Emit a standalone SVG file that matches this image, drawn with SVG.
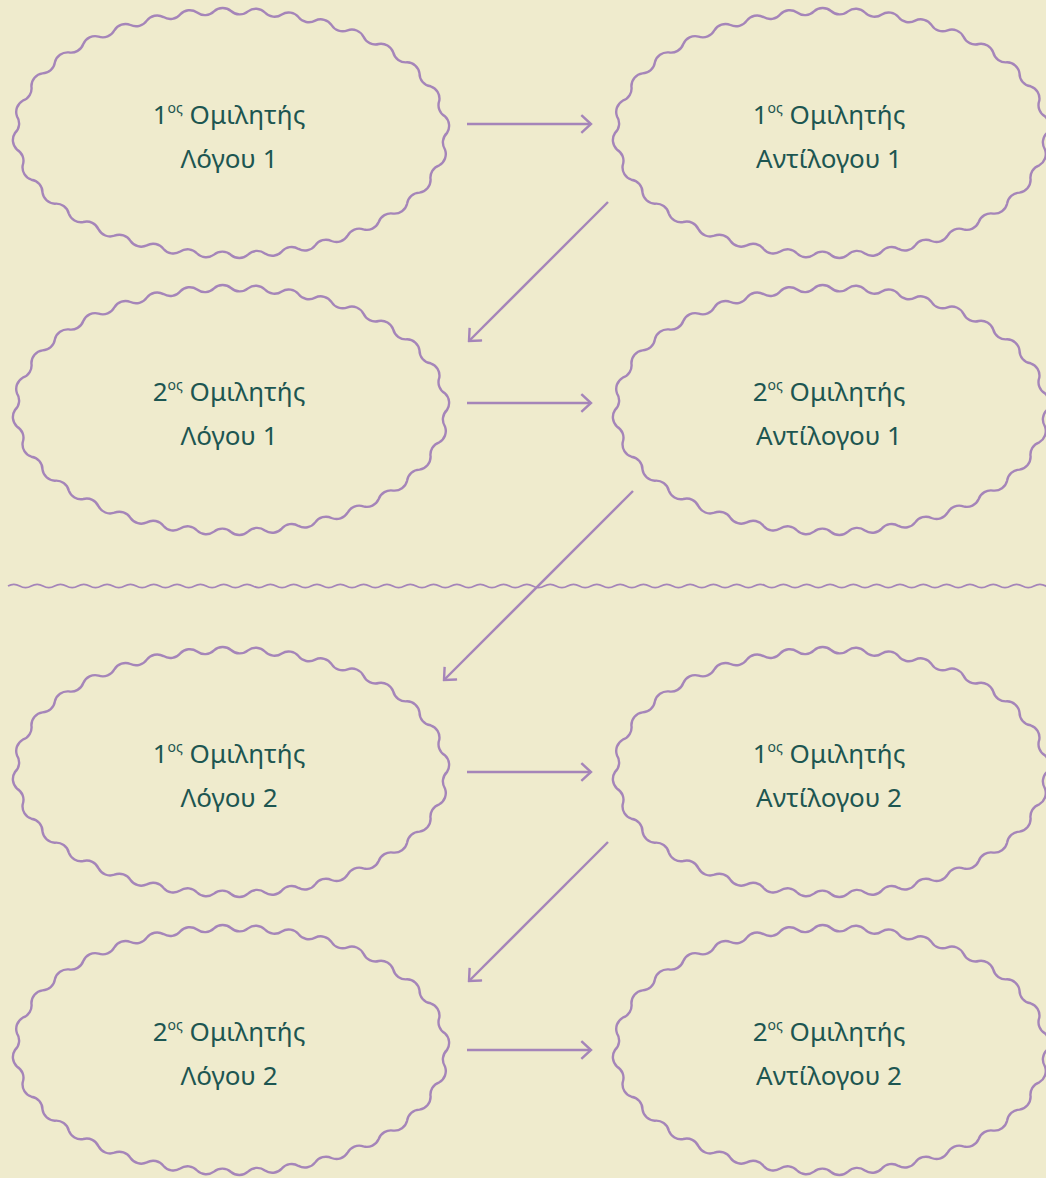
<svg xmlns="http://www.w3.org/2000/svg" xmlns:xlink="http://www.w3.org/1999/xlink" width="1046" height="1178" viewBox="0 0 1046 1178">
<style>
.blob{fill:none;stroke:#a585b9;stroke-width:2.4;stroke-linejoin:round}
.t{font-family:"Noto Sans","Open Sans","DejaVu Sans",sans-serif;font-size:26px;fill:#1d5651;text-anchor:middle}
.sup{font-size:14px}
.conn line{stroke:#a585b9;stroke-width:2.4}
.sep{fill:none;stroke:#a585b9;stroke-width:1.8}
</style>
<defs>
<marker id="ah" markerUnits="userSpaceOnUse" viewBox="-12 -10 14 20" refX="0" refY="0" markerWidth="14" markerHeight="20" orient="auto">
<path d="M-8.8,-8 L0,0 L-8.8,8" fill="none" stroke="#a585b9" stroke-width="2.4" stroke-linecap="square"/>
</marker>
<path id="wavy" class="blob" d="M216,0 A13,13 0 0 0 214,-16.6 A13,13 0 0 1 208.3,-32.3 A13,13 0 0 0 199.6,-46.7 A13,13 0 0 1 188.5,-59.6 A13,13 0 0 0 176.1,-70.7 A13,13 0 0 1 162.2,-80.6 A13,13 0 0 0 147.7,-89 A13,13 0 0 1 132.4,-96.4 A13,13 0 0 0 116.6,-102.7 A13,13 0 0 1 100.5,-108 A13,13 0 0 0 84.2,-112.4 A13,13 0 0 1 67.5,-115.9 A13,13 0 0 0 50.8,-118.6 A13,13 0 0 1 33.9,-120.5 A13,13 0 0 0 17,-121.6 A13,13 0 0 1 0,-122 A13,13 0 0 0 -17,-121.6 A13,13 0 0 1 -33.9,-120.5 A13,13 0 0 0 -50.8,-118.6 A13,13 0 0 1 -67.5,-115.9 A13,13 0 0 0 -84.2,-112.4 A13,13 0 0 1 -100.5,-108 A13,13 0 0 0 -116.6,-102.7 A13,13 0 0 1 -132.4,-96.4 A13,13 0 0 0 -147.7,-89 A13,13 0 0 1 -162.2,-80.6 A13,13 0 0 0 -176.1,-70.7 A13,13 0 0 1 -188.5,-59.6 A13,13 0 0 0 -199.6,-46.7 A13,13 0 0 1 -208.3,-32.3 A13,13 0 0 0 -214,-16.6 A13,13 0 0 1 -216,0 A13,13 0 0 0 -214,16.6 A13,13 0 0 1 -208.3,32.3 A13,13 0 0 0 -199.6,46.7 A13,13 0 0 1 -188.5,59.6 A13,13 0 0 0 -176.1,70.7 A13,13 0 0 1 -162.2,80.6 A13,13 0 0 0 -147.7,89 A13,13 0 0 1 -132.4,96.4 A13,13 0 0 0 -116.6,102.7 A13,13 0 0 1 -100.5,108 A13,13 0 0 0 -84.2,112.4 A13,13 0 0 1 -67.5,115.9 A13,13 0 0 0 -50.8,118.6 A13,13 0 0 1 -33.9,120.5 A13,13 0 0 0 -17,121.6 A13,13 0 0 1 0,122 A13,13 0 0 0 17,121.6 A13,13 0 0 1 33.9,120.5 A13,13 0 0 0 50.8,118.6 A13,13 0 0 1 67.5,115.9 A13,13 0 0 0 84.2,112.4 A13,13 0 0 1 100.5,108 A13,13 0 0 0 116.6,102.7 A13,13 0 0 1 132.4,96.4 A13,13 0 0 0 147.7,89 A13,13 0 0 1 162.2,80.6 A13,13 0 0 0 176.1,70.7 A13,13 0 0 1 188.5,59.6 A13,13 0 0 0 199.6,46.7 A13,13 0 0 1 208.3,32.3 A13,13 0 0 0 214,16.6 A13,13 0 0 1 216,0 Z"/>
</defs>
<rect width="1046" height="1178" fill="#efebcd"/>
<path class="sep" d="M8,586 q5.83,-3.3 11.66,0 t11.66,0 t11.66,0 t11.66,0 t11.66,0 t11.66,0 t11.66,0 t11.66,0 t11.66,0 t11.66,0 t11.66,0 t11.66,0 t11.66,0 t11.66,0 t11.66,0 t11.66,0 t11.66,0 t11.66,0 t11.66,0 t11.66,0 t11.66,0 t11.66,0 t11.66,0 t11.66,0 t11.66,0 t11.66,0 t11.66,0 t11.66,0 t11.66,0 t11.66,0 t11.66,0 t11.66,0 t11.66,0 t11.66,0 t11.66,0 t11.66,0 t11.66,0 t11.66,0 t11.66,0 t11.66,0 t11.66,0 t11.66,0 t11.66,0 t11.66,0 t11.66,0 t11.66,0 t11.66,0 t11.66,0 t11.66,0 t11.66,0 t11.66,0 t11.66,0 t11.66,0 t11.66,0 t11.66,0 t11.66,0 t11.66,0 t11.66,0 t11.66,0 t11.66,0 t11.66,0 t11.66,0 t11.66,0 t11.66,0 t11.66,0 t11.66,0 t11.66,0 t11.66,0 t11.66,0 t11.66,0 t11.66,0 t11.66,0 t11.66,0 t11.66,0 t11.66,0 t11.66,0 t11.66,0 t11.66,0 t11.66,0 t11.66,0 t11.66,0 t11.66,0 t11.66,0 t11.66,0 t11.66,0 t11.66,0 t11.66,0 t11.66,0 t11.66,0 t11.66,0"/>
<g id="node-l1a">
<use href="#wavy" x="231" y="133"/>
<text class="t" x="229" y="124">1<tspan class="sup" dy="-11">ος</tspan><tspan dy="11"> Ομιλητής</tspan></text>
<text class="t" x="229" y="168">Λόγου 1</text>
</g>
<g id="node-r1a">
<use href="#wavy" x="831" y="133"/>
<text class="t" x="829" y="124">1<tspan class="sup" dy="-11">ος</tspan><tspan dy="11"> Ομιλητής</tspan></text>
<text class="t" x="829" y="168">Αντίλογου 1</text>
</g>
<g id="node-l1b">
<use href="#wavy" x="231" y="410"/>
<text class="t" x="229" y="401">2<tspan class="sup" dy="-11">ος</tspan><tspan dy="11"> Ομιλητής</tspan></text>
<text class="t" x="229" y="445">Λόγου 1</text>
</g>
<g id="node-r1b">
<use href="#wavy" x="831" y="410"/>
<text class="t" x="829" y="401">2<tspan class="sup" dy="-11">ος</tspan><tspan dy="11"> Ομιλητής</tspan></text>
<text class="t" x="829" y="445">Αντίλογου 1</text>
</g>
<g id="node-l2a">
<use href="#wavy" x="231" y="772"/>
<text class="t" x="229" y="763">1<tspan class="sup" dy="-11">ος</tspan><tspan dy="11"> Ομιλητής</tspan></text>
<text class="t" x="229" y="807">Λόγου 2</text>
</g>
<g id="node-r2a">
<use href="#wavy" x="831" y="772"/>
<text class="t" x="829" y="763">1<tspan class="sup" dy="-11">ος</tspan><tspan dy="11"> Ομιλητής</tspan></text>
<text class="t" x="829" y="807">Αντίλογου 2</text>
</g>
<g id="node-l2b">
<use href="#wavy" x="231" y="1050"/>
<text class="t" x="229" y="1041">2<tspan class="sup" dy="-11">ος</tspan><tspan dy="11"> Ομιλητής</tspan></text>
<text class="t" x="229" y="1085">Λόγου 2</text>
</g>
<g id="node-r2b">
<use href="#wavy" x="831" y="1050"/>
<text class="t" x="829" y="1041">2<tspan class="sup" dy="-11">ος</tspan><tspan dy="11"> Ομιλητής</tspan></text>
<text class="t" x="829" y="1085">Αντίλογου 2</text>
</g>
<g id="connectors" class="conn">
<line x1="467" y1="124" x2="591" y2="124" marker-end="url(#ah)"/>
<line x1="608" y1="202" x2="469" y2="341" marker-end="url(#ah)"/>
<line x1="467" y1="403" x2="591" y2="403" marker-end="url(#ah)"/>
<line x1="633" y1="491" x2="444" y2="680" marker-end="url(#ah)"/>
<line x1="467" y1="772" x2="591" y2="772" marker-end="url(#ah)"/>
<line x1="608" y1="842" x2="469" y2="981" marker-end="url(#ah)"/>
<line x1="467" y1="1050" x2="591" y2="1050" marker-end="url(#ah)"/>
</g>
</svg>
